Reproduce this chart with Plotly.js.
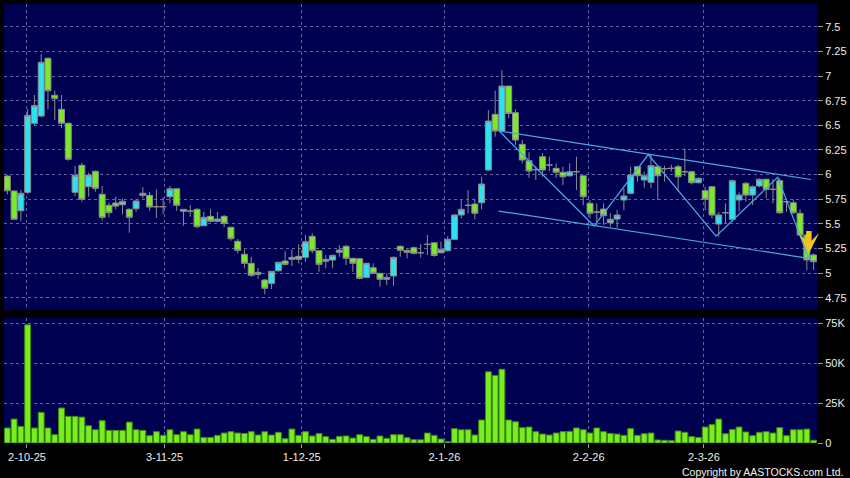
<!DOCTYPE html>
<html>
<head>
<meta charset="utf-8">
<script src="https://cdn.plot.ly/plotly-3.0.1.min.js"></script>
<style>
  html, body { margin: 0; padding: 0; background: #000; }
  #chart { width: 850px; height: 478px; }
</style>
</head>
<body>
<div id="chart"></div>
<script>
// ---- daily OHLC (index = trading day) ----
const openP = [5.985,5.833,5.633,5.82,6.52,6.594,7.18,6.804,6.662,6.52,
  5.82,6.094,5.877,6.033,5.80,5.688,5.711,5.694,5.647,5.653,
  5.81,5.789,5.674,5.674,5.775,5.856,5.627,5.63,5.647,5.481,
  5.576,5.526,5.576,5.465,5.323,5.191,5.099,4.988,4.93,4.896,
  5.024,5.123,5.14,5.17,5.16,5.373,5.227,5.12,5.133,5.211,
  5.272,5.15,5.146,4.957,5.055,4.998,4.937,4.971,5.272,5.231,
  5.258,5.207,5.292,5.308,5.207,5.227,5.343,5.59,5.688,5.701,
  5.714,6.046,6.611,6.442,6.898,6.628,6.307,6.14,6.05,6.181,
  6.097,6.063,6.023,5.988,6.029,5.988,5.708,5.62,5.65,5.511,
  5.549,5.742,5.81,6.08,5.945,5.921,6.08,6.06,6.063,6.08,
  6.029,6.029,5.917,5.836,5.877,5.498,5.613,5.546,5.742,5.911,
  5.792,5.884,5.952,5.85,5.938,5.725,5.714,5.607,5.387,5.184];
const highP = [5.995,5.84,5.843,6.665,6.807,7.223,7.19,6.851,6.807,6.53,
  6.087,6.12,6.019,6.04,5.884,5.718,5.775,5.755,5.66,5.749,
  5.874,5.826,5.85,5.769,5.884,5.86,5.65,5.69,5.66,5.623,
  5.65,5.62,5.59,5.47,5.346,5.242,5.166,5.052,4.94,5.02,
  5.11,5.224,5.242,5.292,5.387,5.404,5.23,5.184,5.19,5.285,
  5.285,5.155,5.15,5.1,5.1,5.0,4.998,5.17,5.28,5.24,
  5.27,5.295,5.387,5.31,5.319,5.376,5.6,5.742,5.843,5.749,
  5.978,6.655,6.851,7.06,6.9,6.662,6.35,6.226,6.08,6.216,
  6.181,6.114,6.08,6.114,6.181,5.99,5.742,5.708,5.708,5.607,
  5.64,5.86,6.08,6.085,6.029,6.2,6.097,6.09,6.1,6.10,
  6.266,6.04,5.97,5.877,5.877,5.62,5.708,5.95,5.82,5.927,
  5.89,5.96,5.96,5.95,5.962,5.759,5.749,5.647,5.39,5.20];
const lowP = [5.80,5.54,5.53,5.80,6.493,6.58,6.665,6.553,6.47,6.14,
  5.782,5.725,5.775,5.826,5.532,5.566,5.647,5.593,5.41,5.623,
  5.759,5.633,5.562,5.60,5.708,5.633,5.481,5.572,5.455,5.481,
  5.515,5.515,5.465,5.329,5.20,5.049,4.963,4.943,4.785,4.836,
  5.014,5.079,5.072,5.1,5.116,5.2,5.014,5.05,5.05,5.166,
  5.082,5.014,4.937,4.95,4.99,4.862,4.88,4.87,5.166,5.15,
  5.19,5.16,5.184,5.166,5.2,5.22,5.34,5.556,5.607,5.546,
  5.647,6.04,6.384,6.44,6.571,6.30,6.114,5.968,5.945,5.978,
  6.036,5.968,5.894,5.978,5.843,5.691,5.556,5.488,5.49,5.471,
  5.46,5.64,5.80,5.927,5.867,5.86,5.742,5.93,6.03,5.826,
  5.985,5.90,5.91,5.64,5.556,5.37,5.505,5.52,5.623,5.725,
  5.69,5.87,5.759,5.708,5.60,5.623,5.60,5.38,5.031,5.031];
const closeP = [5.836,5.546,5.81,6.601,6.70,7.139,6.851,6.77,6.52,6.155,
  5.992,5.749,5.995,5.86,5.566,5.613,5.68,5.729,5.566,5.732,
  5.789,5.671,5.674,5.674,5.856,5.688,5.647,5.63,5.471,5.566,
  5.526,5.549,5.505,5.349,5.231,5.099,4.978,5.008,4.846,5.018,
  5.11,5.089,5.16,5.14,5.319,5.227,5.089,5.14,5.18,5.234,
  5.15,5.1,4.947,5.1,4.998,4.937,4.957,5.16,5.231,5.211,
  5.201,5.207,5.292,5.18,5.241,5.343,5.59,5.647,5.688,5.607,
  5.904,6.543,6.442,6.898,6.621,6.351,6.148,6.036,6.05,6.046,
  6.097,6.023,5.978,6.029,6.029,5.775,5.607,5.62,5.582,5.546,
  5.59,5.782,5.995,5.988,5.988,6.09,5.988,6.06,6.063,5.978,
  6.029,5.917,5.962,5.749,5.59,5.59,5.613,5.938,5.792,5.792,
  5.877,5.952,5.85,5.85,5.613,5.725,5.613,5.387,5.133,5.116];
// ---- daily volume ----
const volume = [9400,15000,10400,74000,9400,19200,9400,5200,21900,16700,
  16700,16200,10800,8300,14000,7900,7900,7900,13100,8300,
  7900,4600,7100,4800,8300,5200,7100,5200,8750,3500,
  3500,4800,6250,7100,6250,6000,7100,5000,7100,5000,
  6700,2700,8750,4800,7100,4400,6000,4000,2300,4200,
  4400,3100,5200,4000,2300,4400,2900,5200,5200,3300,
  2100,2000,6250,4800,2500,800,9000,8300,8300,5000,
  14400,44600,42300,46200,14400,13300,9600,10000,7100,5600,
  5000,6250,7100,7300,9400,8300,6250,9400,7100,6000,
  5600,4800,9000,4800,5800,6250,1900,1700,1500,7500,
  6700,4000,3500,10000,11500,15000,5800,8500,10000,6900,
  4600,6700,7100,6250,9600,4600,8300,8300,8750,1700];
// ---- month tick labels (position in trading-day units) ----
const tickDay = [2.9, 23.2, 43.45, 64.5, 85.8, 102.8];
const tickLabels = ['2-10-25','3-11-25','1-12-25','2-1-26','2-2-26','2-3-26'];
// ---- drawn trend lines ----
const upperIdx = [72.6, 118.6], upperPrice = [6.442, 5.95];
const lowerIdx = [72.5, 118.5], lowerPrice = [5.63, 5.148];
const zigIdx = [72.6, 86.6, 94.6, 104.6, 113.7, 118.2];
const zigPrice = [6.442, 5.478, 6.203, 5.376, 5.972, 5.163];
const arrowAt = {day: 118.3, price: 5.2};

const days = openP.map((_, i) => i);

const CYAN = '#2CE2EE', GREEN = '#7CE82A', EDGE = '#8C8C8C', LINE = '#4AAAE2';
const GRID = 'rgba(140,140,200,0.7)';

const traces = [
  {
    type: 'candlestick', x: days, open: openP, high: highP, low: lowP, close: closeP,
    xaxis: 'x', yaxis: 'y', whiskerwidth: 0,
    increasing: {line: {color: EDGE, width: 1}, fillcolor: CYAN},
    decreasing: {line: {color: EDGE, width: 1}, fillcolor: GREEN},
    hoverinfo: 'skip', showlegend: false
  },
  {type: 'scatter', mode: 'lines', x: upperIdx, y: upperPrice, xaxis: 'x', yaxis: 'y',
    line: {color: LINE, width: 1.2}, hoverinfo: 'skip', showlegend: false},
  {type: 'scatter', mode: 'lines', x: lowerIdx, y: lowerPrice, xaxis: 'x', yaxis: 'y',
    line: {color: LINE, width: 1.2}, hoverinfo: 'skip', showlegend: false},
  {type: 'scatter', mode: 'lines', x: zigIdx, y: zigPrice, xaxis: 'x', yaxis: 'y',
    line: {color: LINE, width: 1.2}, hoverinfo: 'skip', showlegend: false},
  {
    type: 'bar', x: days, y: volume, xaxis: 'x', yaxis: 'y2', width: 0.86,
    marker: {color: '#78EE1F', line: {color: '#3E8A12', width: 1}},
    hoverinfo: 'skip', showlegend: false
  }
];

const tickFont = {family: 'Liberation Sans, Arial, sans-serif', size: 11, color: '#EDEDED'};

const layout = {
  width: 850, height: 478,
  paper_bgcolor: '#000000', plot_bgcolor: '#000050',
  margin: {l: 4, r: 33, t: 4, b: 35},
  showlegend: false,
  boxgap: 0.12, boxgroupgap: 0, boxmode: 'overlay',
  xaxis: {
    range: [-0.49, 119.5], anchor: 'y2', rangeslider: {visible: false},
    tickmode: 'array', tickvals: tickDay, ticktext: tickLabels,
    ticks: 'outside', ticklen: 4, tickcolor: '#9A9A9A', tickfont: tickFont,
    showgrid: true, gridcolor: GRID, griddash: '3px,3px', gridwidth: 1,
    zeroline: false, showline: false, fixedrange: true
  },
  yaxis: {
    domain: [0.303, 1], side: 'right', anchor: 'x',
    range: [4.626, 7.731], tick0: 0, dtick: 0.25,
    ticks: 'outside', ticklen: 5, tickcolor: '#9A9A9A', tickfont: tickFont,
    showgrid: true, gridcolor: GRID, griddash: '3px,3px',
    zeroline: false, showline: false
  },
  yaxis2: {
    domain: [0, 0.2848], side: 'right', anchor: 'x',
    range: [0, 78300], tickmode: 'array',
    tickvals: [0, 25000, 50000, 75000], ticktext: ['0', '25K', '50K', '75K'],
    ticks: 'outside', ticklen: 5, tickcolor: '#9A9A9A', tickfont: tickFont,
    showgrid: true, gridcolor: GRID, griddash: '3px,3px',
    zeroline: false, showline: false
  },
  annotations: [
    {
      xref: 'x', yref: 'y', x: arrowAt.day, y: arrowAt.price,
      ax: 0, ay: -24, showarrow: true, text: '',
      arrowcolor: '#F2C31A', arrowwidth: 5.5, arrowhead: 3, arrowsize: 0.62
    },
    {
      xref: 'paper', yref: 'paper', x: 1.0344, y: -0.0654,
      xanchor: 'right', yanchor: 'middle', showarrow: false,
      text: 'Copyright by AASTOCKS.com Ltd.',
      font: {family: 'Liberation Sans, Arial, sans-serif', size: 10.5, color: '#F0F0F0'}
    }
  ]
};

Plotly.newPlot('chart', traces, layout, {displayModeBar: false, staticPlot: true});
</script>
</body>
</html>
